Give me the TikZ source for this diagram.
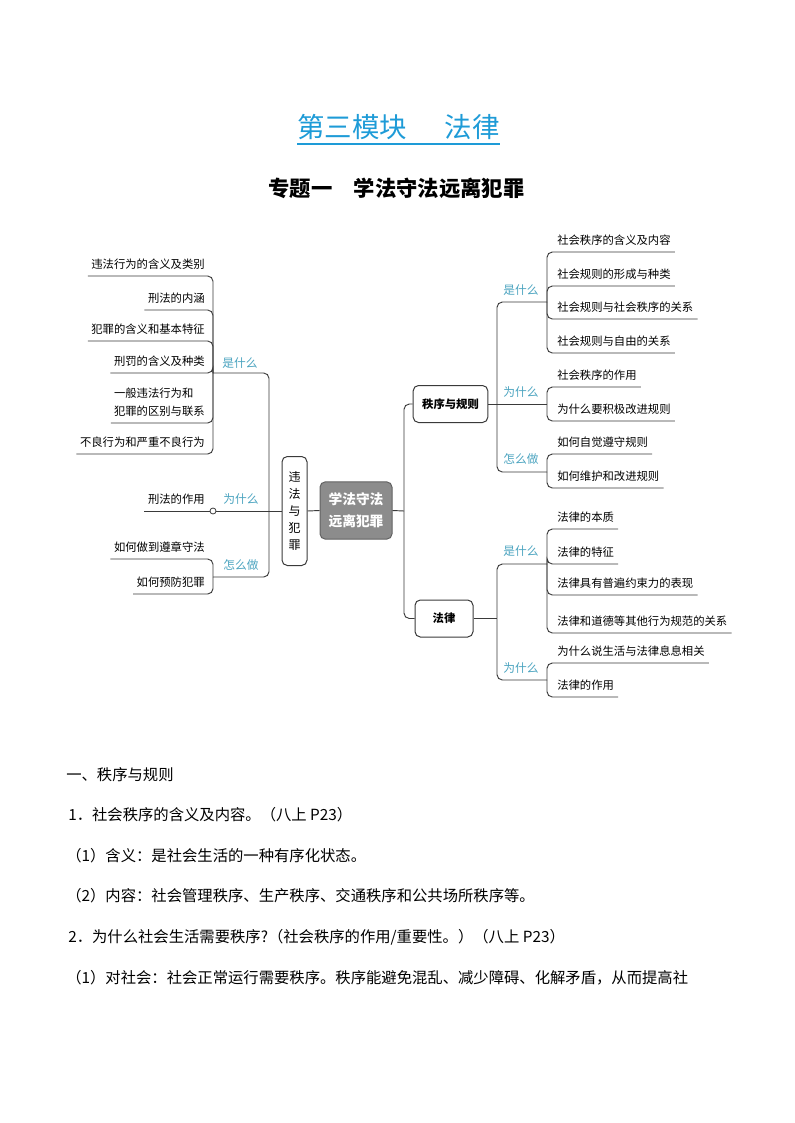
\documentclass[tikz,border=0pt]{standalone}
\usepackage{fontspec}
\setmainfont{Noto Sans CJK SC}
\usetikzlibrary{positioning, calc}
\definecolor{titleblue}{HTML}{1E9BD7}
\definecolor{tagteal}{HTML}{4AA3BF}
\definecolor{linegray}{HTML}{3A3A3A}
\definecolor{coregray}{HTML}{8C8C8C}

\begin{document}
\begin{tikzpicture}[
    x=0.75pt, y=-0.75pt,
    every node/.style={font=\fontsize{8.5}{10}\selectfont},
    leaf/.style={inner xsep=0pt, inner ysep=5.25pt, text height=7.5pt, text depth=0pt},
    tag/.style={text=tagteal, inner sep=0pt, font=\fontsize{8.8}{10}\selectfont},
    topic/.style={draw=linegray, rounded corners=4pt, line width=0.75pt, align=center, inner sep=0pt, font=\fontsize{8.5}{10}\selectfont\bfseries},
    link/.style={draw=linegray, line width=0.7pt, rounded corners=4pt},
    para/.style={anchor=west, inner sep=0pt, font=\fontsize{11.5}{14}\selectfont}
]
    \useasboundingbox (0,0) rectangle (794,1123);

    % headings
    \node[text=titleblue, inner xsep=0pt, inner ysep=3.2pt, font=\fontsize{20.6}{24}\selectfont] (title) at (398.5,127) {第三模块\hspace{28pt}法律};
    \draw[titleblue, line width=1.4pt] (title.south west) -- (title.south east);
    \node[font=\fontsize{16}{20}\selectfont\bfseries] (subtitle) at (396.5,188) {专题一\hspace{16pt}学法守法远离犯罪};

    % centre and main topics
    \node[topic, fill=coregray, draw=coregray!70!black, text=white, minimum width=54pt, minimum height=43pt, font=\fontsize{10.3}{16.5}\selectfont\bfseries] (core) at (356,510.5) {学法守法\\远离犯罪};
    \node[topic, minimum width=18.75pt, minimum height=81.75pt, font=\fontsize{9}{12.75}\selectfont] (crime) at (294.5,511) {违\\法\\与\\犯\\罪};
    \node[topic, minimum width=56pt, minimum height=27.75pt] (order) at (450.5,404) {秩序与规则};
    \node[topic, minimum width=43.5pt, minimum height=27.75pt] (law) at (444,618.5) {法律};

    \coordinate (lj) at (269,511);
    \coordinate (rj) at (404,511);
    \coordinate (oj) at (497,404);
    \coordinate (fj) at (497,618.5);

    \draw[link] (core.west) -- (crime.east);
    \draw[link] (core.east) -- (rj);
    \draw[link] (rj) |- (order.west);
    \draw[link] (rj) |- (law.west);

    % left side
    \coordinate (lwhat) at (213,373);
    \coordinate (lhow) at (213,577);
    \node[circle, draw=linegray, fill=white, line width=0.6pt, inner sep=0pt, minimum size=4.5pt] (lwhy) at (213,511) {};
    \node[tag] (tlwhat) at (240,363) {是什么};
    \node[tag] (tlwhy) at (241,499) {为什么};
    \node[tag] (tlhow) at (241,565) {怎么做};

    \draw[link] (crime.west) -- (lwhy.east);
    \draw[link] (lj) |- (lwhat);
    \draw[link] (lj) |- (lhow);

    \node[leaf, anchor=south east] (l1) at (205,276) {违法行为的含义及类别};
    \node[leaf, anchor=south east] (l2) at (205,310) {刑法的内涵};
    \node[leaf, anchor=south east] (l3) at (205,341) {犯罪的含义和基本特征};
    \node[leaf, anchor=south east] (l4) at (205,373) {刑罚的含义及种类};
    \node[anchor=south east, inner xsep=0pt, inner ysep=0pt, align=left, font=\fontsize{8.5}{13.5}\selectfont] (l5) at (205,417) {一般违法行为和\\犯罪的区别与联系};
    \node[leaf, anchor=south east] (l6) at (205,454) {不良行为和严重不良行为};
    \foreach \n in {l1,l2,l3,l4,l6}
        \draw[link] (lwhat) |- ([xshift=-2.5pt]\n.south west);
    \draw[link] (lwhat) |- ($(l5.south west)+(-3,6)$);

    \node[leaf, anchor=south east] (lw1) at (205,511) {刑法的作用};
    \draw[link] (lwhy.west) -- ([xshift=-2.5pt]lw1.south west);

    \node[leaf, anchor=south east] (lh1) at (205,559) {如何做到遵章守法};
    \node[leaf, anchor=south east] (lh2) at (205,594) {如何预防犯罪};
    \draw[link] (lhow) |- ([xshift=-2.5pt]lh1.south west);
    \draw[link] (lhow) |- ([xshift=-2.5pt]lh2.south west);

    % order and rules
    \coordinate (owhat) at (547,302);
    \coordinate (owhy) at (547,404);
    \coordinate (ohow) at (547,472);
    \node[tag] (towhat) at (521,290) {是什么};
    \node[tag] (towhy) at (521,392) {为什么};
    \node[tag] (tohow) at (521,459) {怎么做};
    \draw[link] (order.east) -- (owhy);
    \draw[link] (oj) |- (owhat);
    \draw[link] (oj) |- (ohow);

    \node[leaf, anchor=south west] (r1) at (557,252) {社会秩序的含义及内容};
    \node[leaf, anchor=south west] (r2) at (557,286) {社会规则的形成与种类};
    \node[leaf, anchor=south west] (r3) at (557,319) {社会规则与社会秩序的关系};
    \node[leaf, anchor=south west] (r4) at (557,353) {社会规则与自由的关系};
    \foreach \n in {r1,r2,r3,r4}
        \draw[link] (owhat) |- ([xshift=3pt]\n.south east);

    \node[leaf, anchor=south west] (r5) at (557,387) {社会秩序的作用};
    \node[leaf, anchor=south west] (r6) at (557,421) {为什么要积极改进规则};
    \foreach \n in {r5,r6}
        \draw[link] (owhy) |- ([xshift=3pt]\n.south east);

    \node[leaf, anchor=south west] (r7) at (557,454) {如何自觉遵守规则};
    \node[leaf, anchor=south west] (r8) at (557,488) {如何维护和改进规则};
    \foreach \n in {r7,r8}
        \draw[link] (ohow) |- ([xshift=3pt]\n.south east);

    % law
    \coordinate (fwhat) at (547,564);
    \coordinate (fwhy) at (547,680);
    \node[tag] (tfwhat) at (521,551) {是什么};
    \node[tag] (tfwhy) at (521,668) {为什么};
    \draw[link] (law.east) -- (fj);
    \draw[link] (fj) |- (fwhat);
    \draw[link] (fj) |- (fwhy);

    \node[leaf, anchor=south west] (f1) at (557,529) {法律的本质};
    \node[leaf, anchor=south west] (f2) at (557,564) {法律的特征};
    \node[leaf, anchor=south west] (f3) at (557,595) {法律具有普遍约束力的表现};
    \node[leaf, anchor=south west] (f4) at (557,633) {法律和道德等其他行为规范的关系};
    \foreach \n in {f1,f2,f3,f4}
        \draw[link] (fwhat) |- ([xshift=3pt]\n.south east);

    \node[leaf, anchor=south west] (f5) at (557,663) {为什么说生活与法律息息相关};
    \node[leaf, anchor=south west] (f6) at (557,697) {法律的作用};
    \foreach \n in {f5,f6}
        \draw[link] (fwhy) |- ([xshift=3pt]\n.south east);

    % text below
    \node[para] (b0) at (66,775) {一、秩序与规则};
    \node[para] (b1) at (68,815) {1．社会秩序的含义及内容。（八上 P23）};
    \node[para] (b2) at (66,856) {（1）含义：是社会生活的一种有序化状态。};
    \node[para] (b3) at (66,896) {（2）内容：社会管理秩序、生产秩序、交通秩序和公共场所秩序等。};
    \node[para] (b4) at (68,937) {2．为什么社会生活需要秩序?（社会秩序的作用/重要性。）（八上 P23）};
    \node[para] (b5) at (66,978) {（1）对社会：社会正常运行需要秩序。秩序能避免混乱、减少障碍、化解矛盾，从而提高社};
\end{tikzpicture}
\end{document}
